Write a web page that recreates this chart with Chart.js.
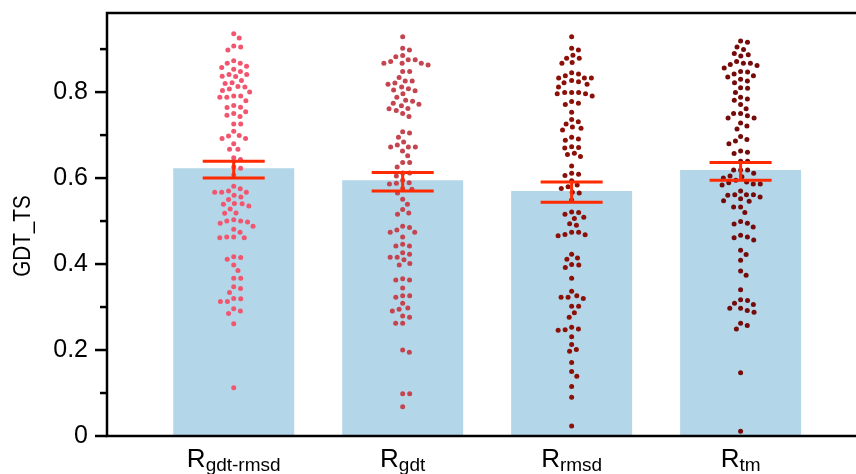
<!DOCTYPE html>
<html>
<head>
<meta charset="utf-8">
<script src="https://cdn.jsdelivr.net/npm/chart.js@4.4.0/dist/chart.umd.min.js"></script>
<style>
  html, body { margin: 0; padding: 0; background: #fff; overflow: hidden; }
</style>
</head>
<body>
<canvas id="myChart" width="856" height="474"></canvas>
<script>
/* GDT_TS per reward: mean bar, error bar and a swarm of the single values.
 */

// subscripts of the "R" labels
var categories = ['gdt-rmsd', 'gdt', 'rmsd', 'tm'];

var barMeans = [0.623, 0.595, 0.570, 0.619];
var errLow = [0.600, 0.570, 0.5435, 0.595];
var errHigh = [0.639, 0.613, 0.591, 0.636];

var gdtRmsd = [0.936, 0.926, 0.898, 0.905, 0.907, 0.867, 0.867, 0.873, 0.853, 0.857, 0.860, 0.848,
    0.836, 0.837, 0.841, 0.841, 0.820, 0.822, 0.827, 0.804, 0.807, 0.812, 0.813, 0.800, 0.788, 0.788,
    0.791, 0.791, 0.780, 0.764, 0.765, 0.769, 0.754, 0.750, 0.743, 0.746, 0.726, 0.726, 0.709, 0.692,
    0.692, 0.698, 0.699, 0.680, 0.667, 0.667, 0.643, 0.647, 0.623, 0.626, 0.607, 0.581, 0.567, 0.567,
    0.567, 0.570, 0.575, 0.556, 0.560, 0.550, 0.535, 0.539, 0.540, 0.541, 0.528, 0.518, 0.519, 0.500,
    0.500, 0.498, 0.503, 0.495, 0.488, 0.474, 0.481, 0.461, 0.461, 0.463, 0.463, 0.411, 0.415, 0.417,
    0.398, 0.385, 0.367, 0.367, 0.343, 0.347, 0.334, 0.313, 0.313, 0.319, 0.320, 0.291, 0.285, 0.296,
    0.261, 0.112];

var gdt = [0.929, 0.902, 0.898, 0.882, 0.885, 0.867, 0.867, 0.867, 0.863, 0.871, 0.875, 0.875, 0.848,
    0.848, 0.834, 0.818, 0.821, 0.826, 0.826, 0.803, 0.805, 0.808, 0.812, 0.796, 0.788, 0.772, 0.774,
    0.779, 0.781, 0.768, 0.757, 0.761, 0.762, 0.750, 0.743, 0.708, 0.705, 0.695, 0.684, 0.677, 0.672,
    0.672, 0.672, 0.663, 0.652, 0.636, 0.636, 0.626, 0.612, 0.612, 0.605, 0.595, 0.586, 0.588, 0.589,
    0.565, 0.574, 0.576, 0.551, 0.539, 0.516, 0.519, 0.527, 0.485, 0.488, 0.479, 0.474, 0.474, 0.463,
    0.442, 0.442, 0.446, 0.423, 0.426, 0.410, 0.416, 0.416, 0.398, 0.401, 0.363, 0.363, 0.366, 0.344,
    0.323, 0.326, 0.326, 0.309, 0.291, 0.295, 0.298, 0.276, 0.279, 0.262, 0.262, 0.200, 0.195, 0.098,
    0.098, 0.068];

var rmsd = [0.929, 0.898, 0.902, 0.886, 0.879, 0.879, 0.867, 0.869, 0.838, 0.842, 0.845, 0.833, 0.833,
    0.833, 0.818, 0.822, 0.824, 0.827, 0.812, 0.791, 0.796, 0.796, 0.799, 0.799, 0.799, 0.771, 0.774,
    0.778, 0.753, 0.726, 0.731, 0.736, 0.712, 0.716, 0.719, 0.691, 0.688, 0.695, 0.670, 0.671, 0.673,
    0.658, 0.650, 0.655, 0.628, 0.611, 0.606, 0.609, 0.594, 0.580, 0.584, 0.576, 0.565, 0.567, 0.549,
    0.516, 0.520, 0.521, 0.506, 0.509, 0.490, 0.494, 0.468, 0.469, 0.466, 0.474, 0.474, 0.423, 0.414,
    0.411, 0.392, 0.398, 0.399, 0.367, 0.323, 0.323, 0.320, 0.326, 0.337, 0.302, 0.302, 0.287, 0.276,
    0.246, 0.247, 0.249, 0.253, 0.231, 0.213, 0.197, 0.201, 0.171, 0.150, 0.139, 0.115, 0.090, 0.023];

var tm = [0.916, 0.919, 0.899, 0.905, 0.884, 0.887, 0.890, 0.867, 0.867, 0.862, 0.871, 0.864, 0.856,
    0.835, 0.838, 0.842, 0.847, 0.848, 0.822, 0.826, 0.830, 0.809, 0.810, 0.799, 0.788, 0.781, 0.784,
    0.771, 0.761, 0.740, 0.740, 0.745, 0.750, 0.750, 0.728, 0.721, 0.714, 0.697, 0.686, 0.690, 0.680,
    0.660, 0.657, 0.663, 0.639, 0.639, 0.611, 0.619, 0.619, 0.619, 0.605, 0.600, 0.603, 0.595, 0.584,
    0.586, 0.586, 0.589, 0.591, 0.570, 0.546, 0.547, 0.552, 0.556, 0.560, 0.561, 0.561, 0.561, 0.533,
    0.533, 0.520, 0.499, 0.493, 0.495, 0.486, 0.456, 0.461, 0.463, 0.467, 0.422, 0.432, 0.409, 0.374,
    0.384, 0.340, 0.309, 0.315, 0.317, 0.306, 0.292, 0.297, 0.297, 0.288, 0.262, 0.257, 0.249, 0.147,
    0.011];

var series = [gdtRmsd, gdt, rmsd, tm];
var pointColors = ['#f2566f', '#c4444f', '#8c1008', '#760a0a'];

var FONT = "'Liberation Sans', Arial, Helvetica, sans-serif";
// approx. pixels per data unit, only used to spread the swarm
var PX_X = 169, PX_Y = 430, DOT = 7;
var CAP = 0.367;

// simple beeswarm: each point goes as close to the centre as it can without overlap
function swarm(values, center) {
    var sorted = values.slice().sort((a, b) => b - a);
    var placed = [];
    return sorted.map(v => {
        var py = v * PX_Y;
        var cands = [0];
        placed.forEach(p => {
            var dy = Math.abs(p.y - py);
            if (dy < DOT) {
                var dx = Math.sqrt(DOT * DOT - dy * dy);
                cands.push(p.x + dx, p.x - dx);
            }
        });
        cands.sort((a, b) => Math.abs(a) - Math.abs(b));
        var x = cands.find(c => placed.every(p => Math.hypot(p.x - c, p.y - py) >= DOT - 0.01));
        placed.push({x: x, y: py});
        return {x: center + x / PX_X, y: v};
    });
}

var decor = {
    id: 'decor',
    afterDatasetsDraw(chart) {
        var ctx = chart.ctx, xs = chart.scales.x, ys = chart.scales.y, ca = chart.chartArea;
        ctx.save();

        // error bars
        ctx.strokeStyle = '#ff2a00';
        ctx.lineWidth = 3;
        barMeans.forEach((m, i) => {
            var cx = xs.getPixelForValue(i + 1);
            var half = xs.getPixelForValue(i + 1 + CAP / 2) - cx;
            var yl = ys.getPixelForValue(errLow[i]);
            var yh = ys.getPixelForValue(errHigh[i]);
            ctx.beginPath();
            ctx.moveTo(cx - half, yh); ctx.lineTo(cx + half, yh);
            ctx.moveTo(cx - half, yl); ctx.lineTo(cx + half, yl);
            ctx.moveTo(cx, yh); ctx.lineTo(cx, yl);
            ctx.stroke();
        });

        // frame (right side is cut off)
        ctx.strokeStyle = '#000';
        ctx.lineWidth = 2.5;
        ctx.beginPath();
        ctx.moveTo(chart.width, ca.top);
        ctx.lineTo(ca.left, ca.top);
        ctx.lineTo(ca.left, ca.bottom);
        ctx.lineTo(chart.width, ca.bottom);
        ctx.stroke();

        // y ticks, major and minor
        for (var k = 0; k <= 9; k++) {
            var y = ys.getPixelForValue(k / 10);
            var len = k % 2 === 0 ? 12 : 7;
            ctx.beginPath();
            ctx.moveTo(ca.left - len, y);
            ctx.lineTo(ca.left, y);
            ctx.stroke();
        }

        // axis title, a bit condensed like the original
        ctx.fillStyle = '#000';
        ctx.save();
        ctx.translate(23, 236);
        ctx.rotate(-Math.PI / 2);
        ctx.scale(0.86, 1);
        ctx.font = '24px ' + FONT;
        ctx.textAlign = 'center';
        ctx.textBaseline = 'middle';
        ctx.fillText('GDT_TS', 0, 0);
        ctx.restore();

        // x labels: R with subscript
        categories.forEach((sub, i) => {
            var cx = xs.getPixelForValue(i + 1);
            ctx.font = '26px ' + FONT;
            var wR = ctx.measureText('R').width;
            ctx.font = '19px ' + FONT;
            var wS = ctx.measureText(sub).width;
            var x0 = cx - (wR + wS) / 2;
            ctx.textAlign = 'left';
            ctx.textBaseline = 'alphabetic';
            ctx.font = '26px ' + FONT;
            ctx.fillText('R', x0, 467);
            ctx.font = '19px ' + FONT;
            ctx.fillText(sub, x0 + wR, 471);
        });
        ctx.restore();
    }
};

var datasets = series.map((s, i) => ({
    type: 'scatter',
    data: swarm(s, i + 1),
    backgroundColor: pointColors[i],
    borderWidth: 0,
    pointRadius: 2.5,
    order: 0
}));
datasets.push({
    type: 'bar',
    data: barMeans.map((m, i) => ({x: i + 1, y: m})),
    backgroundColor: '#b3d7e8',
    barPercentage: 0.716,
    categoryPercentage: 1,
    order: 1
});

const config = {
    type: 'bar',
    data: {datasets: datasets},
    options: {
        responsive: false,
        animation: false,
        layout: {padding: {top: 13, bottom: 38, left: 0, right: 0}, autoPadding: false},
        plugins: {
            legend: {display: false},
            tooltip: {enabled: false}
        },
        scales: {
            x: {
                type: 'linear', min: 0.25, max: 4.683, offset: false, display: false,
                ticks: {stepSize: 1, includeBounds: false}
            },
            y: {
                min: 0,
                max: 0.984,
                border: {display: false},
                grid: {display: false, drawTicks: false},
                ticks: {
                    stepSize: 0.2,
                    includeBounds: false,
                    padding: 19,
                    color: '#000',
                    font: {family: FONT, size: 25, lineHeight: 1},
                    callback: v => v === 0 ? '0' : v.toFixed(1)
                },
                afterFit: s => {
                    s.width = 107;
                    s.paddingTop = 0;
                    s.paddingBottom = 0;
                }
            }
        }
    },
    plugins: [decor]
};

var myChart = new Chart(document.getElementById('myChart'), config);
</script>
</body>
</html>
